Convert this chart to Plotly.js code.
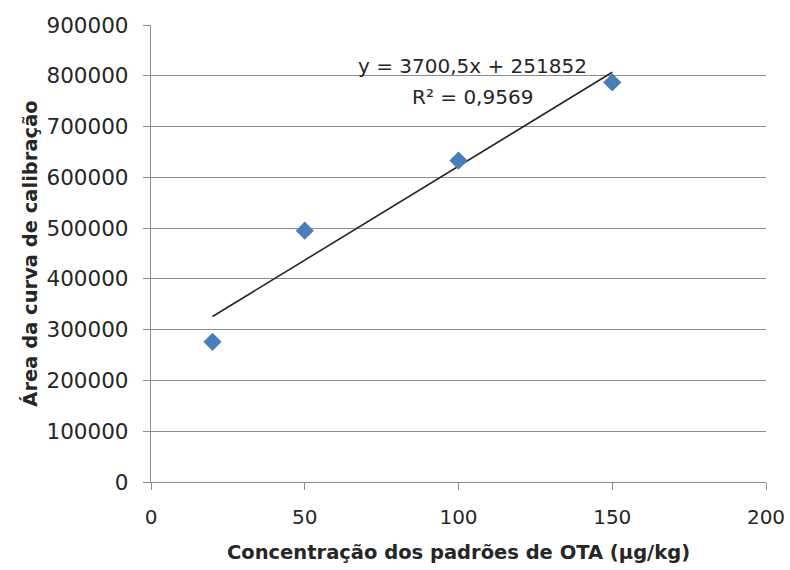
<!DOCTYPE html>
<html><head><meta charset="utf-8">
<script src="https://cdn.plot.ly/plotly-3.0.1.min.js"></script>
<style>body{margin:0;background:#fff}#c{width:790px;height:570px}</style>
</head><body><div id="c"></div>
<script>
const concentracao = [20, 50, 100, 150];
const area = [276000, 495000, 633000, 787000];
const slope = 3700.5;
const intercept = 251852;
const trendX = [20, 150];
const trendY = trendX.map(x => slope * x + intercept);
const xTicks = [0, 50, 100, 150, 200];
const yTicks = [0,100000,200000,300000,400000,500000,600000,700000,800000,900000];

const font = {family: 'DejaVu Sans, sans-serif', size: 20, color: '#262626'};
const data = [
  {x: trendX, y: trendY, mode: 'lines', line: {color: '#262626', width: 1.6}, hoverinfo: 'skip'},
  {x: concentracao, y: area, mode: 'markers', marker: {symbol: 'diamond', size: 14, color: '#4a7ebb'}}
];
const layout = {
  width: 790, height: 570, showlegend: false,
  margin: {l: 151, r: 24, t: 25, b: 88},
  paper_bgcolor: '#fff', plot_bgcolor: '#fff',
  font: font,
  xaxis: {range: [0, 200], tickvals: xTicks, ticktext: xTicks.map(String), showgrid: false, zeroline: false,
    showline: true, linecolor: '#8c8c8c', linewidth: 1.3, ticks: 'outside', ticklen: 7, tickcolor: '#8c8c8c',
    ticklabelstandoff: 10,
    tickfont: {size: 20}, title: {text: '<b>Concentração dos padrões de OTA (µg/kg)</b>', font: {size: 19.5}, standoff: 17}},
  yaxis: {range: [0, 900000], tickvals: yTicks, ticktext: yTicks.map(String), showgrid: true, gridcolor: '#8c8c8c', gridwidth: 1.3,
    zeroline: false, showline: true, linecolor: '#8c8c8c', linewidth: 1.3, ticks: 'outside', ticklen: 7, tickcolor: '#8c8c8c',
    ticklabelstandoff: 10,
    tickfont: {size: 21.5}, title: {text: '<b>Área da curva de calibração</b>', font: {size: 19.5}, standoff: 3}},
  annotations: [
    {x: 104.7, y: 819000, xref: 'x', yref: 'y', text: 'y = 3700,5x + 251852', showarrow: false,
     font: {size: 20, color: '#262626'}, yanchor: 'middle'},
    {x: 104.5, y: 758000, xref: 'x', yref: 'y', text: 'R² = 0,9569', showarrow: false,
     font: {size: 20, color: '#262626'}, yanchor: 'middle'}
  ]
};
Plotly.newPlot('c', data, layout, {displayModeBar: false});
</script></body></html>
